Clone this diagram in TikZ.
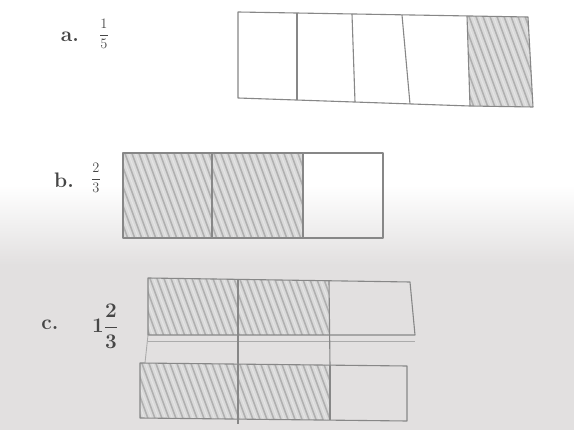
\documentclass[tikz,border=0pt]{standalone}
\usepackage{amsmath}
\definecolor{bggray}{RGB}{226,224,224}
\definecolor{pencil}{RGB}{135,135,135}
\definecolor{inkc}{RGB}{70,70,70}
\tikzset{
  edge/.style={draw=pencil, line width=1.1pt, line join=round},
  faint/.style={draw=pencil!70, line width=0.9pt},
  hatchfill/.style={fill=gray!30},
  hatchline/.style={draw=gray!62, line width=1.5pt},
  hatchlight/.style={draw=white!80!gray, line width=1pt},
  lbl/.style={inner sep=0pt, text=inkc, font=\fontsize{21}{24}\selectfont\bfseries},
  frc/.style={inner sep=0pt, text=inkc, font=\fontsize{15}{18}\selectfont},
  lblc/.style={inner sep=0pt, text=inkc, font=\fontsize{21}{24}\selectfont\bfseries}
}
\newcommand\hatchquad[4]{%
  \begin{scope}
    \clip #1 -- #2 -- #3 -- #4 -- cycle;
    \fill[hatchfill] #1 -- #2 -- #3 -- #4 -- cycle;
    \foreach \s in {-70,-63,...,110} {
      \draw[hatchline, shift={#1}] (\s,-5) -- ++(40,110);
      \draw[hatchlight, shift={#1}] (\s+3.5,-5) -- ++(40,110);
    }
  \end{scope}}
\begin{document}
\begin{tikzpicture}[x=1pt, y=-1pt]
  \useasboundingbox (0,0) rectangle (574,430);
  % background (photo paper)
  \fill[white] (0,0) rectangle (574,430);
  \shade[top color=white, bottom color=bggray] (0,185) rectangle (574,265);
  \fill[bggray] (0,265) rectangle (574,430);

  % ---------- a. 1/5 ----------
  \node[lbl] (la) at (70,37) {a.};
  \node[frc] (fa) at (104,34) {\(\dfrac{1}{5}\)};
  \hatchquad{(467,16)}{(528,17)}{(533,107)}{(470,106)}
  \draw[edge] (238,12) -- (528,17) -- (533,107) -- (470,106) -- (238,98) -- cycle;
  \draw[edge] (297,13) -- (297,100);
  \draw[edge] (352,14) -- (355,102);
  \draw[edge] (402,15) -- (410,104);
  \draw[edge] (467,16) -- (470,106);

  % ---------- b. 2/3 ----------
  \node[lbl] (lb) at (64,180) {b.};
  \node[frc] (fb) at (96,178) {\(\dfrac{2}{3}\)};
  \hatchquad{(123,153)}{(212,153)}{(212,238)}{(123,238)}
  \hatchquad{(212,153)}{(303,153)}{(303,238)}{(212,238)}
  \draw[edge] (123,153) rectangle (383,238);
  \draw[edge] (212,153) -- (212,238);
  \draw[edge] (303,153) -- (303,238);

  % ---------- c. 1 2/3 ----------
  \node[lblc] (lc) at (50,325) {c.};
  \node[lblc] (fc) at (105,326) {\(\boldsymbol{1\dfrac{2}{3}}\)};
  % top bar
  \hatchquad{(148,278)}{(238,279)}{(238,335)}{(148,335)}
  \hatchquad{(238,279)}{(329,281)}{(329,335)}{(238,335)}
  \draw[edge] (148,278) -- (410,282) -- (415,335) -- (148,335) -- cycle;
  \draw[faint] (148,341) -- (415,341);
  % gap lines
  \draw[faint] (148,335) -- (145,363);
  \draw[edge] (238,279) -- (238,366);
  \draw[edge] (329,281) -- (330,366);
  % bottom bar
  \hatchquad{(140,363)}{(238,364)}{(238,419)}{(140,418)}
  \hatchquad{(238,364)}{(330,365)}{(330,420)}{(238,419)}
  \draw[edge] (140,363) -- (407,366) -- (407,421) -- (140,418) -- cycle;
  \draw[edge] (238,364) -- (238,424);
  \draw[edge] (330,365) -- (330,420);
\end{tikzpicture}
\end{document}
